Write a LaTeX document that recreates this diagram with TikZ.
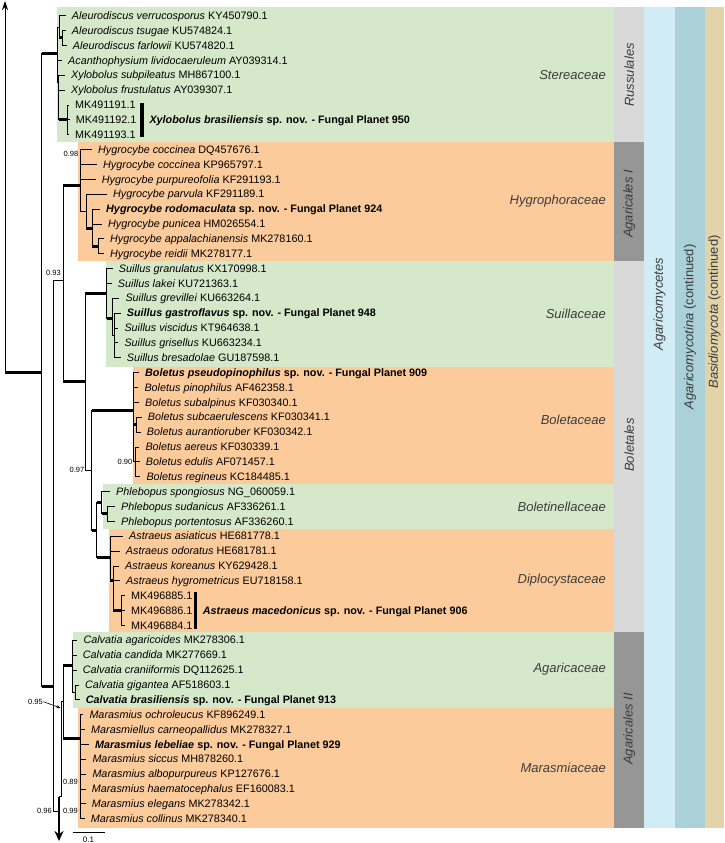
\documentclass[tikz,border=0pt]{standalone}
\usepackage{fontspec}
\setmainfont{Liberation Sans}
\usepackage{tikz}
\usetikzlibrary{arrows.meta, positioning}
\usepackage{xcolor}
\definecolor{famgreen}{RGB}{213,232,201}
\definecolor{famorange}{RGB}{252,203,155}
\definecolor{ordlight}{RGB}{217,217,217}
\definecolor{orddark}{RGB}{150,150,150}
\definecolor{classblue}{RGB}{209,236,245}
\definecolor{subphylteal}{RGB}{170,208,216}
\definecolor{phyltan}{RGB}{226,212,168}
\definecolor{labelgrey}{RGB}{60,60,60}

% thin vertical plus thick horizontal stem
\newcommand{\thickstem}[2]{\draw[branch] (#1) |- (#2); \draw[thickbr] (#1 |- #2) -- (#2);}

\begin{document}
\begin{tikzpicture}[
			x=1pt, y=-1pt,
			>=Stealth,
			% tree styles
			branch/.style={line width=0.8pt, black},
			thickbr/.style={line width=3pt, black},
			leaf/.style={
				anchor=west, inner xsep=6pt, inner ysep=0pt,
				text height=7.5pt, text depth=0pt,
				font=\fontsize{10.8}{12}\selectfont
			},
			newsp/.style={leaf, font=\fontsize{10.8}{12}\selectfont\bfseries},
			support/.style={inner sep=0.5pt, font=\fontsize{7.5}{8}\selectfont},
			% label styles
			famlabel/.style={
				anchor=east, inner sep=0pt, text=labelgrey,
				font=\fontsize{13}{15}\selectfont\itshape
			},
			ordlabel/.style={
				rotate=90, inner sep=0pt, text=labelgrey,
				font=\fontsize{13}{15}\selectfont
			},
			bar/.style={line width=3.5pt, black}
		]

		\useasboundingbox (0,0) rectangle (724,843);

		% Family boxes
		\fill[famgreen]  (56.7,7.3)    rectangle (614.3,141.7);
		\fill[famorange] (78.3,141.7)  rectangle (614.3,261);
		\fill[famgreen]  (106,261)     rectangle (614.3,366.7);
		\fill[famorange] (133.3,366.7) rectangle (614.3,483.5);
		\fill[famgreen]  (103.3,483.5) rectangle (614.3,529);
		\fill[famorange] (109.3,529)   rectangle (614.3,631.7);
		\fill[famgreen]  (72.7,631.7)  rectangle (614.3,707.7);
		\fill[famorange] (78.3,707.7)  rectangle (614.3,828.3);

		% Order / class / phylum columns
		\fill[ordlight]    (614.3,7.3)   rectangle (644,141.7);
		\fill[orddark]     (614.3,141.7) rectangle (644,260.7);
		\fill[ordlight]    (614.3,260.7) rectangle (644,631.7);
		\fill[orddark]     (614.3,631.7) rectangle (644,828.3);
		\fill[classblue]   (644,7.3)     rectangle (675,828.3);
		\fill[subphylteal] (675,7.3)     rectangle (705,828.3);
		\fill[phyltan]     (705,7.3)     rectangle (724,828.3);

		\node[famlabel] (stere)  at (606,75.3)  {Stereaceae};
		\node[famlabel] (hygrof) at (606,201)   {Hygrophoraceae};
		\node[famlabel] (suilf)  at (606,314)   {Suillaceae};
		\node[famlabel] (bolf)   at (606,420)   {Boletaceae};
		\node[famlabel] (bolinf) at (606,507)   {Boletinellaceae};
		\node[famlabel] (diplf)  at (606,580.5) {Diplocystaceae};
		\node[famlabel] (agarf)  at (606,669)   {Agaricaceae};
		\node[famlabel] (marf)   at (606,768.3) {Marasmiaceae};

		\node[ordlabel, font=\fontsize{13}{15}\selectfont\itshape] (russ) at (629.2,75)  {Russulales};
		\node[ordlabel, font=\fontsize{13}{15}\selectfont\itshape] (agI)  at (629.2,204) {Agaricales I};
		\node[ordlabel, font=\fontsize{13}{15}\selectfont\itshape] (bolo) at (629.2,445) {Boletales};
		\node[ordlabel, font=\fontsize{13}{15}\selectfont\itshape] (agII) at (629.2,729) {Agaricales II};
		\node[ordlabel] (agcls) at (659.5,304) {\textit{Agaricomycetes}};
		\node[ordlabel] (agsub) at (690,327)   {\textit{Agaricomycotina} (continued)};
		\node[ordlabel] (basid) at (714.5,312) {\textit{Basidiomycota} (continued)};

		% Leaves: Stereaceae
		\node[leaf] (averr) at (65.7,15.7)  {\textit{Aleurodiscus verrucosporus} KY450790.1};
		\node[leaf] (atsug) at (65.7,30.6)  {\textit{Aleurodiscus tsugae} KU574824.1};
		\node[leaf] (afarl) at (66.7,45.4)  {\textit{Aleurodiscus farlowii} KU574820.1};
		\node[leaf] (acliv) at (62,60.3)    {\textit{Acanthophysium lividocaeruleum} AY039314.1};
		\node[leaf] (xsubp) at (65,75.2)    {\textit{Xylobolus subpileatus} MH867100.1};
		\node[leaf] (xfrus) at (65,90.05)   {\textit{Xylobolus frustulatus} AY039307.1};
		\node[leaf] (mkxa)  at (69,104.9)   {MK491191.1};
		\node[leaf] (mkxb)  at (69.7,119.8) {MK491192.1};
		\node[leaf] (mkxc)  at (69,134.7)   {MK491193.1};
		\node[newsp, inner xsep=0pt] (xbras) at (149.3,119.8) {\textit{Xylobolus brasiliensis} sp. nov. - Fungal Planet 950};

		% Leaves: Hygrophoraceae
		\node[leaf] (hcocd) at (92,149.5)   {\textit{Hygrocybe coccinea} DQ457676.1};
		\node[leaf] (hcock) at (97,164.4)   {\textit{Hygrocybe coccinea} KP965797.1};
		\node[leaf] (hpurp) at (95.7,179.3) {\textit{Hygrocybe purpureofolia} KF291193.1};
		\node[leaf] (hparv) at (107,194.1)  {\textit{Hygrocybe parvula} KF291189.1};
		\node[newsp] (hrodo) at (100,209)   {\textit{Hygrocybe rodomaculata} sp. nov. - Fungal Planet 924};
		\node[leaf] (hpuni) at (102,223.9)  {\textit{Hygrocybe punicea} HM026554.1};
		\node[leaf] (happa) at (104,238.8)  {\textit{Hygrocybe appalachianensis} MK278160.1};
		\node[leaf] (hreid) at (104,253.6)  {\textit{Hygrocybe reidii} MK278177.1};

		% Leaves: Suillaceae
		\node[leaf] (sgran) at (112.7,268.5) {\textit{Suillus granulatus} KX170998.1};
		\node[leaf] (slake) at (111.7,283.4) {\textit{Suillus lakei} KU721363.1};
		\node[leaf] (sgrev) at (119.3,298.2) {\textit{Suillus grevillei} KU663264.1};
		\node[newsp] (sgast) at (120.7,313.1) {\textit{Suillus gastroflavus} sp. nov. - Fungal Planet 948};
		\node[leaf] (svisc) at (118.3,328)   {\textit{Suillus viscidus} KT964638.1};
		\node[leaf] (sgris) at (118.3,342.8) {\textit{Suillus grisellus} KU663234.1};
		\node[leaf] (sbres) at (120.7,357.7) {\textit{Suillus bresadolae} GU187598.1};

		% Leaves: Boletaceae
		\node[newsp] (bpseu) at (139,372.6)  {\textit{Boletus pseudopinophilus} sp. nov. - Fungal Planet 909};
		\node[leaf] (bpino) at (138.3,387.5) {\textit{Boletus pinophilus} AF462358.1};
		\node[leaf] (bsuba) at (139,402.3)   {\textit{Boletus subalpinus} KF030340.1};
		\node[leaf] (bsubc) at (141.7,417.2) {\textit{Boletus subcaerulescens} KF030341.1};
		\node[leaf] (baura) at (140.7,432.1) {\textit{Boletus aurantioruber} KF030342.1};
		\node[leaf] (baere) at (139.3,446.9) {\textit{Boletus aereus} KF030339.1};
		\node[leaf] (bedul) at (139.7,461.8) {\textit{Boletus edulis} AF071457.1};
		\node[leaf] (bregi) at (140.3,476.7) {\textit{Boletus regineus} KC184485.1};

		% Leaves: Boletinellaceae
		\node[leaf] (pspon) at (110,491.5) {\textit{Phlebopus spongiosus} NG\_060059.1};
		\node[leaf] (psuda) at (115,506.4) {\textit{Phlebopus sudanicus} AF336261.1};
		\node[leaf] (pport) at (115,521.3) {\textit{Phlebopus portentosus} AF336260.1};

		% Leaves: Diplocystaceae
		\node[leaf] (aasia) at (123,536.2)   {\textit{Astraeus asiaticus} HE681778.1};
		\node[leaf] (aodor) at (119.7,551)   {\textit{Astraeus odoratus} HE681781.1};
		\node[leaf] (akore) at (119,565.9)   {\textit{Astraeus koreanus} KY629428.1};
		\node[leaf] (ahygr) at (120,580.8)   {\textit{Astraeus hygrometricus} EU718158.1};
		\node[leaf] (mkaa)  at (125,595.6)   {MK496885.1};
		\node[leaf] (mkab)  at (125,610.5)   {MK496886.1};
		\node[leaf] (mkac)  at (125,625.4)   {MK496884.1};
		\node[newsp, inner xsep=0pt] (amace) at (202.7,610.5) {\textit{Astraeus macedonicus} sp. nov. - Fungal Planet 906};

		% Leaves: Agaricaceae
		\node[leaf] (cagar) at (77.3,640.2) {\textit{Calvatia agaricoides} MK278306.1};
		\node[leaf] (ccand) at (76.7,655.1) {\textit{Calvatia candida} MK277669.1};
		\node[leaf] (ccran) at (76.7,670)   {\textit{Calvatia craniiformis} DQ112625.1};
		\node[leaf] (cgiga) at (79,684.9)   {\textit{Calvatia gigantea} AF518603.1};
		\node[newsp] (cbras) at (79.7,699.7) {\textit{Calvatia brasiliensis} sp. nov. - Fungal Planet 913};

		% Leaves: Marasmiaceae
		\node[leaf] (mochr) at (83.3,714.6) {\textit{Marasmius ochroleucus} KF896249.1};
		\node[leaf] (mcarn) at (85,729.5)   {\textit{Marasmiellus carneopallidus} MK278327.1};
		\node[newsp] (mlebe) at (89,744.3)  {\textit{Marasmius lebeliae} sp. nov. - Fungal Planet 929};
		\node[leaf] (msicc) at (86.3,759.2) {\textit{Marasmius siccus} MH878260.1};
		\node[leaf] (malbo) at (86.3,774.1) {\textit{Marasmius albopurpureus} KP127676.1};
		\node[leaf] (mhaem) at (85.7,788.9) {\textit{Marasmius haematocephalus} EF160083.1};
		\node[leaf] (meleg) at (85.7,803.8) {\textit{Marasmius elegans} MK278342.1};
		\node[leaf] (mcoll) at (84.7,818.7) {\textit{Marasmius collinus} MK278340.1};

		% Bars for the new species
		\coordinate (xbar-top) at (142,103);
		\coordinate (xbar-bot) at (142,137);
		\draw[bar] (xbar-top) -- (xbar-bot);
		\coordinate (abar-top) at (195.5,592);
		\coordinate (abar-bot) at (195.5,629);
		\draw[bar] (abar-top) -- (abar-bot);

		% Internal nodes
		\coordinate (roottop) at (5,1);
		\coordinate (root) at (5,372);
		\coordinate (nA)   at (41.7,372);
		\coordinate (nS)   at (57,53.3);
		\coordinate (nAl)  at (59,27);
		\coordinate (nTF)  at (62,38);
		\coordinate (nX)   at (58.5,82);
		\coordinate (nMKx) at (67,119.8);
		\coordinate (nB)   at (53.3,686);
		\coordinate (nD)   at (63.3,280);
		\coordinate (nH)   at (80,185);
		\coordinate (nP)   at (80.5,157);
		\coordinate (nQ)   at (86,211);
		\coordinate (nR)   at (92,228);
		\coordinate (nT)   at (98,246.2);
		\coordinate (nBo)  at (85,381.7);
		\coordinate (nSu)  at (106.7,293);
		\coordinate (nV)   at (112,318);
		\coordinate (nW)   at (114,335.4);
		\coordinate (nK)   at (91.7,470);
		\coordinate (nBol) at (133.3,410);
		\coordinate (nSC)  at (136,424.6);
		\coordinate (nE)   at (135,461.8);
		\coordinate (nL)   at (96.7,530);
		\coordinate (nPh)  at (101.7,502.7);
		\coordinate (nPS)  at (107,513.8);
		\coordinate (nAs)  at (110,557);
		\coordinate (nAs2) at (113.3,580.8);
		\coordinate (nMKa) at (121.7,610.5);
		\coordinate (nM)   at (59,811);
		\coordinate (nMtop) at (59,796.7);
		\coordinate (nMbot) at (59,841);
		\coordinate (nN)   at (61.7,796.7);
		\coordinate (nG)   at (63.3,701.7);
		\coordinate (nCal) at (72.7,665);
		\coordinate (nCG)  at (75,692.3);
		\coordinate (nMar) at (80,738.3);
		\coordinate (n89)  at (80.5,781.5);
		\coordinate (n99)  at (80.5,811.2);

		% Branches
		\draw[branch, -{Stealth[length=9pt, width=6pt]}] (root) -- (roottop);
		\draw[thickbr] (root) -- (nA);
		\thickstem{nA}{nS}
		\thickstem{nA}{nB}

		% Stereaceae
		\draw[branch] (nS) |- (nAl);
		\draw[branch] (nS) |- (acliv.west);
		\draw[branch] (nS) |- (nX);
		\draw[branch] (nAl) |- (averr.west);
		\thickstem{nAl}{nTF}
		\draw[branch] (nTF) |- (atsug.west);
		\draw[branch] (nTF) |- (afarl.west);
		\draw[branch] (nX) |- (xsubp.west);
		\draw[branch] (nX) |- (xfrus.west);
		\thickstem{nX}{nMKx}
		\draw[branch] (nMKx) |- (mkxa.west);
		\draw[branch] (nMKx) |- (mkxb.west);
		\draw[branch] (nMKx) |- (mkxc.west);

		% Agaricales I + Boletales
		\draw[branch] (nB) |- (nD);
		\thickstem{nD}{nH}
		\thickstem{nD}{nBo}
		\draw[branch] (nH) |- (nP);
		\draw[branch] (nP) |- (hcocd.west);
		\draw[branch] (nP) |- (hcock.west);
		\draw[branch] (nH) |- (hpurp.west);
		\draw[branch] (nH) |- (nQ);
		\draw[branch] (nQ) |- (hparv.west);
		\thickstem{nQ}{nR}
		\draw[branch] (nR) |- (hrodo.west);
		\draw[branch] (nR) |- (hpuni.west);
		\thickstem{nR}{nT}
		\draw[branch] (nT) |- (happa.west);
		\draw[branch] (nT) |- (hreid.west);

		\thickstem{nBo}{nSu}
		\draw[branch] (nBo) |- (nK);
		\draw[branch] (nSu) |- (sgran.west);
		\draw[branch] (nSu) |- (slake.west);
		\thickstem{nSu}{nV}
		\draw[branch] (nV) |- (sgrev.west);
		\draw[branch] (nV) |- (nW);
		\draw[branch] (nW) |- (sgast.west);
		\draw[branch] (nW) |- (svisc.west);
		\draw[branch] (nW) |- (sgris.west);
		\draw[branch] (nW) |- (sbres.west);

		\thickstem{nK}{nBol}
		\thickstem{nK}{nL}
		\draw[branch] (nBol) |- (bpseu.west);
		\draw[branch] (nBol) |- (bpino.west);
		\draw[branch] (nBol) |- (bsuba.west);
		\thickstem{nBol}{nSC}
		\draw[branch] (nSC) |- (bsubc.west);
		\draw[branch] (nSC) |- (baura.west);
		\draw[branch] (nBol) |- (nE);
		\draw[branch] (nE) |- (baere.west);
		\draw[branch] (nE) |- (bedul.west);
		\draw[branch] (nE) |- (bregi.west);

		\thickstem{nL}{nPh}
		\thickstem{nL}{nAs}
		\draw[branch] (nPh) |- (pspon.west);
		\thickstem{nPh}{nPS}
		\draw[branch] (nPS) |- (psuda.west);
		\draw[branch] (nPS) |- (pport.west);
		\draw[branch] (nAs) |- (aasia.west);
		\draw[branch] (nAs) |- (aodor.west);
		\thickstem{nAs}{nAs2}
		\draw[branch] (nAs2) |- (akore.west);
		\draw[branch] (nAs2) |- (ahygr.west);
		\thickstem{nAs2}{nMKa}
		\draw[branch] (nMKa) |- (mkaa.west);
		\draw[branch] (nMKa) |- (mkab.west);
		\draw[branch] (nMKa) |- (mkac.west);

		% Agaricales II
		\draw[branch] (nB) |- (nM);
		\draw[branch, line width=1.6pt, -{Stealth[length=10pt, width=9pt]}] (nMtop) -- (nMbot);
		\draw[branch] (nMtop) -- (nN);
		\draw[branch] (nN) |- (nG);
		\thickstem{nG}{nCal}
		\thickstem{nG}{nMar}
		\draw[branch] (nCal) |- (cagar.west);
		\draw[branch] (nCal) |- (ccand.west);
		\draw[branch] (nCal) |- (ccran.west);
		\draw[branch] (nCal) |- (nCG);
		\draw[branch] (nCG) |- (cgiga.west);
		\draw[branch] (nCG) |- (cbras.west);
		\draw[branch] (nMar) |- (mochr.west);
		\draw[branch] (nMar) |- (mcarn.west);
		\draw[branch] (nMar) |- (mlebe.west);
		\draw[branch] (nMar) |- (msicc.west);
		\draw[branch] (nMar) |- (n89);
		\draw[branch] (nMar) |- (n99);
		\draw[branch] (n89) |- (malbo.west);
		\draw[branch] (n89) |- (mhaem.west);
		\draw[branch] (n99) |- (meleg.west);
		\draw[branch] (n99) |- (mcoll.west);

		% Support values
		\node[support, anchor=east] (s098) at (79,153.7)  {0.98};
		\node[support] (s093) at (53.5,273)   {0.93};
		\node[support, anchor=east] (s097) at (85,470)    {0.97};
		\node[support, anchor=east] (s090) at (133,461.8) {0.90};
		\node[support, anchor=east] (s095) at (43.5,701.7) {0.95};
		\node[support, anchor=east] (s096) at (52.5,811.2) {0.96};
		\node[support, anchor=east] (s089) at (78.5,781.5) {0.89};
		\node[support, anchor=east] (s099) at (78.5,811.2) {0.99};
		\coordinate (arr095) at (60.5,708);
		\draw[branch, line width=0.6pt, -{Stealth[length=4pt, width=3pt]}] (s095.east) -- (arr095);

		% Scale bar
		\coordinate (sbl) at (72.7,832);
		\coordinate (sbr) at (105,832);
		\draw[branch] (sbl) -- (sbr);
		\node[support, font=\fontsize{8}{9}\selectfont] (sblab) at (88.5,839.5) {0.1};

		\end{tikzpicture}
\end{document}
